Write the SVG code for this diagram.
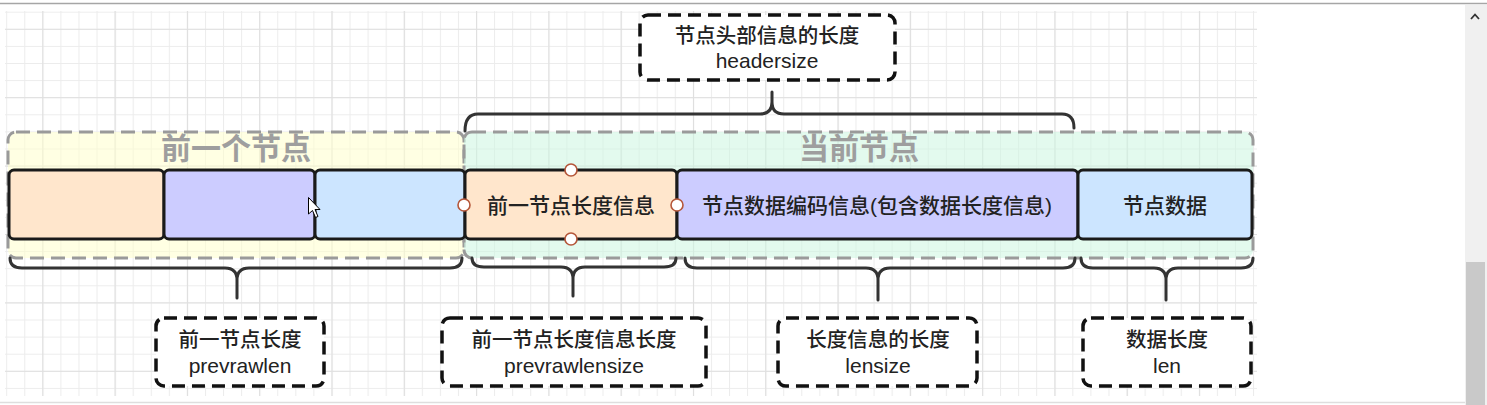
<svg xmlns="http://www.w3.org/2000/svg" width="1487" height="405" viewBox="0 0 1487 405">
  <style>
    .grp { fill-opacity: 0.55; stroke: #9a9a9a; stroke-width: 3; stroke-dasharray: 14 7; }
    .gtitle { font-family: "Noto Sans CJK SC", sans-serif; font-size: 30px; font-weight: bold; fill: #9e9e9e; text-anchor: middle; }
    .box { stroke: #1a1a1a; stroke-width: 3; }
    .btxt { font-family: "Liberation Sans", "Noto Sans CJK SC", sans-serif; font-size: 21px; font-weight: 500; fill: #222; text-anchor: middle; }
    .lbl { fill: #ffffff; stroke: #111; stroke-width: 3.5; stroke-dasharray: 13 7; }
    .lcjk { font-family: "Noto Sans CJK SC", sans-serif; font-size: 20.5px; font-weight: 500; fill: #222; text-anchor: middle; }
    .llat { font-family: "Liberation Sans", Arial, sans-serif; font-size: 21px; fill: #222; text-anchor: middle; }
    .brace { fill: none; stroke: #333; stroke-width: 3; stroke-linecap: round; stroke-linejoin: round; }
    .handle { fill: #ffffff; stroke: #b5573a; stroke-width: 1.6; }
  </style>
  <defs>
    <pattern id="minor" x="6.2" y="11.7" width="18.07" height="17.1" patternUnits="userSpaceOnUse">
      <path d="M0.5 0 V17.1 M0 0.5 H18.07" stroke="#ececec" stroke-width="1" fill="none"/>
    </pattern>
    <pattern id="major" x="42.3" y="28.8" width="72.3" height="68.4" patternUnits="userSpaceOnUse">
      <path d="M0.5 0 V68.4 M0 0.5 H72.3" stroke="#dfdfdf" stroke-width="1.2" fill="none"/>
    </pattern>
  </defs>

  <!-- page background and browser chrome -->
  <rect x="0" y="0" width="1487" height="405" fill="#ffffff"/>
  <g id="grid">
    <rect x="5" y="11" width="1252" height="385" fill="url(#minor)"/>
    <rect x="5" y="11" width="1252" height="385" fill="url(#major)"/>
  </g>
  <line x1="0" y1="3.5" x2="1487" y2="3.5" stroke="#a6a6a6" stroke-width="1.5"/>
  <line x1="0" y1="402.5" x2="1465" y2="402.5" stroke="#dedede" stroke-width="1.5"/>
  <g id="scrollbar">
    <rect x="1465" y="5" width="22" height="400" fill="#f0f0f0"/>
    <path d="M1471 19 L1475 14.5 L1479 19" fill="none" stroke="#333" stroke-width="1.8"/>
    <rect x="1466" y="262" width="19" height="143" fill="#c9c9c9"/>
  </g>

  <!-- containers -->
  <g id="prev-node">
    <rect class="grp" x="8" y="132" width="456" height="126" rx="8" fill="#ffffcc"/>
    <text class="gtitle" x="236" y="159">前一个节点</text>
  </g>
  <g id="cur-node">
    <rect class="grp" x="464" y="132" width="789" height="126" rx="8" fill="#ccf5e0"/>
    <text class="gtitle" x="859" y="159">当前节点</text>
  </g>

  <!-- boxes of previous node -->
  <g id="prev-box1"><rect class="box" x="9" y="170" width="155" height="69" rx="5" fill="#ffe6cc"/></g>
  <g id="prev-box2"><rect class="box" x="164" y="170" width="151" height="69" rx="5" fill="#ccccff"/></g>
  <g id="prev-box3"><rect class="box" x="315" y="170" width="150" height="69" rx="5" fill="#cce5ff"/></g>

  <!-- boxes of current node -->
  <g id="box-prevlen">
    <rect class="box" x="465" y="170" width="212" height="69" rx="5" fill="#ffe6cc"/>
    <text class="btxt" x="571" y="213">前一节点长度信息</text>
  </g>
  <g id="box-encoding">
    <rect class="box" x="677" y="170" width="401" height="69" rx="5" fill="#ccccff"/>
    <text class="btxt" x="877" y="213">节点数据编码信息(包含数据长度信息)</text>
  </g>
  <g id="box-data">
    <rect class="box" x="1078" y="170" width="174" height="69" rx="5" fill="#cce5ff"/>
    <text class="btxt" x="1165" y="213">节点数据</text>
  </g>

  <!-- selection handles -->
  <g id="handles">
    <circle class="handle" cx="464" cy="205" r="6"/>
    <circle class="handle" cx="677" cy="205" r="6"/>
    <circle class="handle" cx="571" cy="170" r="6"/>
    <circle class="handle" cx="571" cy="239" r="6"/>
  </g>

  <!-- braces -->
  <g id="connectors">
    <path class="brace" d="M465 131 Q465 114 478 114 L760 114 Q772 114 772 102 L772 92 M772 102 Q772 114 784 114 L1062 114 Q1074 114 1074 128"/>
    <path class="brace" d="M10 258 Q10 268 22 268 L225 268 Q237 268 237 280 L237 298 M237 280 Q237 268 249 268 L450 268 Q462 268 462 258"/>
    <path class="brace" d="M472 258 Q472 267 484 267 L561 267 Q573 267 573 279 L573 296 M573 279 Q573 267 585 267 L664 267 Q676 267 676 258"/>
    <path class="brace" d="M685 258 Q685 268 697 268 L866 268 Q878 268 878 280 L878 300 M878 280 Q878 268 890 268 L1063 268 Q1075 268 1075 258"/>
    <path class="brace" d="M1081 258 Q1081 268 1093 268 L1154 268 Q1166 268 1166 280 L1166 300 M1166 280 Q1166 268 1178 268 L1241 268 Q1253 268 1253 258"/>
  </g>

  <!-- labels -->
  <g id="lbl-headersize">
    <rect class="lbl" x="640" y="15" width="255" height="65" rx="8"/>
    <text class="lcjk" x="767" y="43">节点头部信息的长度</text>
    <text class="llat" x="767" y="68">headersize</text>
  </g>
  <g id="lbl-prevrawlen">
    <rect class="lbl" x="156" y="318" width="168" height="68" rx="8"/>
    <text class="lcjk" x="240" y="347">前一节点长度</text>
    <text class="llat" x="240" y="373">prevrawlen</text>
  </g>
  <g id="lbl-prevrawlensize">
    <rect class="lbl" x="442" y="318" width="264" height="68" rx="8"/>
    <text class="lcjk" x="574" y="347">前一节点长度信息长度</text>
    <text class="llat" x="574" y="373">prevrawlensize</text>
  </g>
  <g id="lbl-lensize">
    <rect class="lbl" x="778" y="318" width="199" height="68" rx="8"/>
    <text class="lcjk" x="878" y="347">长度信息的长度</text>
    <text class="llat" x="878" y="373">lensize</text>
  </g>
  <g id="lbl-len">
    <rect class="lbl" x="1083" y="318" width="168" height="68" rx="8"/>
    <text class="lcjk" x="1167" y="347">数据长度</text>
    <text class="llat" x="1167" y="373">len</text>
  </g>

  <!-- mouse cursor -->
  <g id="cursor">
    <path d="M308.5 197.5 L308.5 214 L312.5 210.5 L315.5 217.5 L318 216.5 L315 209.5 L320 209.5 Z" fill="#ffffff" stroke="#000" stroke-width="1" stroke-linejoin="round"/>
  </g>
</svg>
